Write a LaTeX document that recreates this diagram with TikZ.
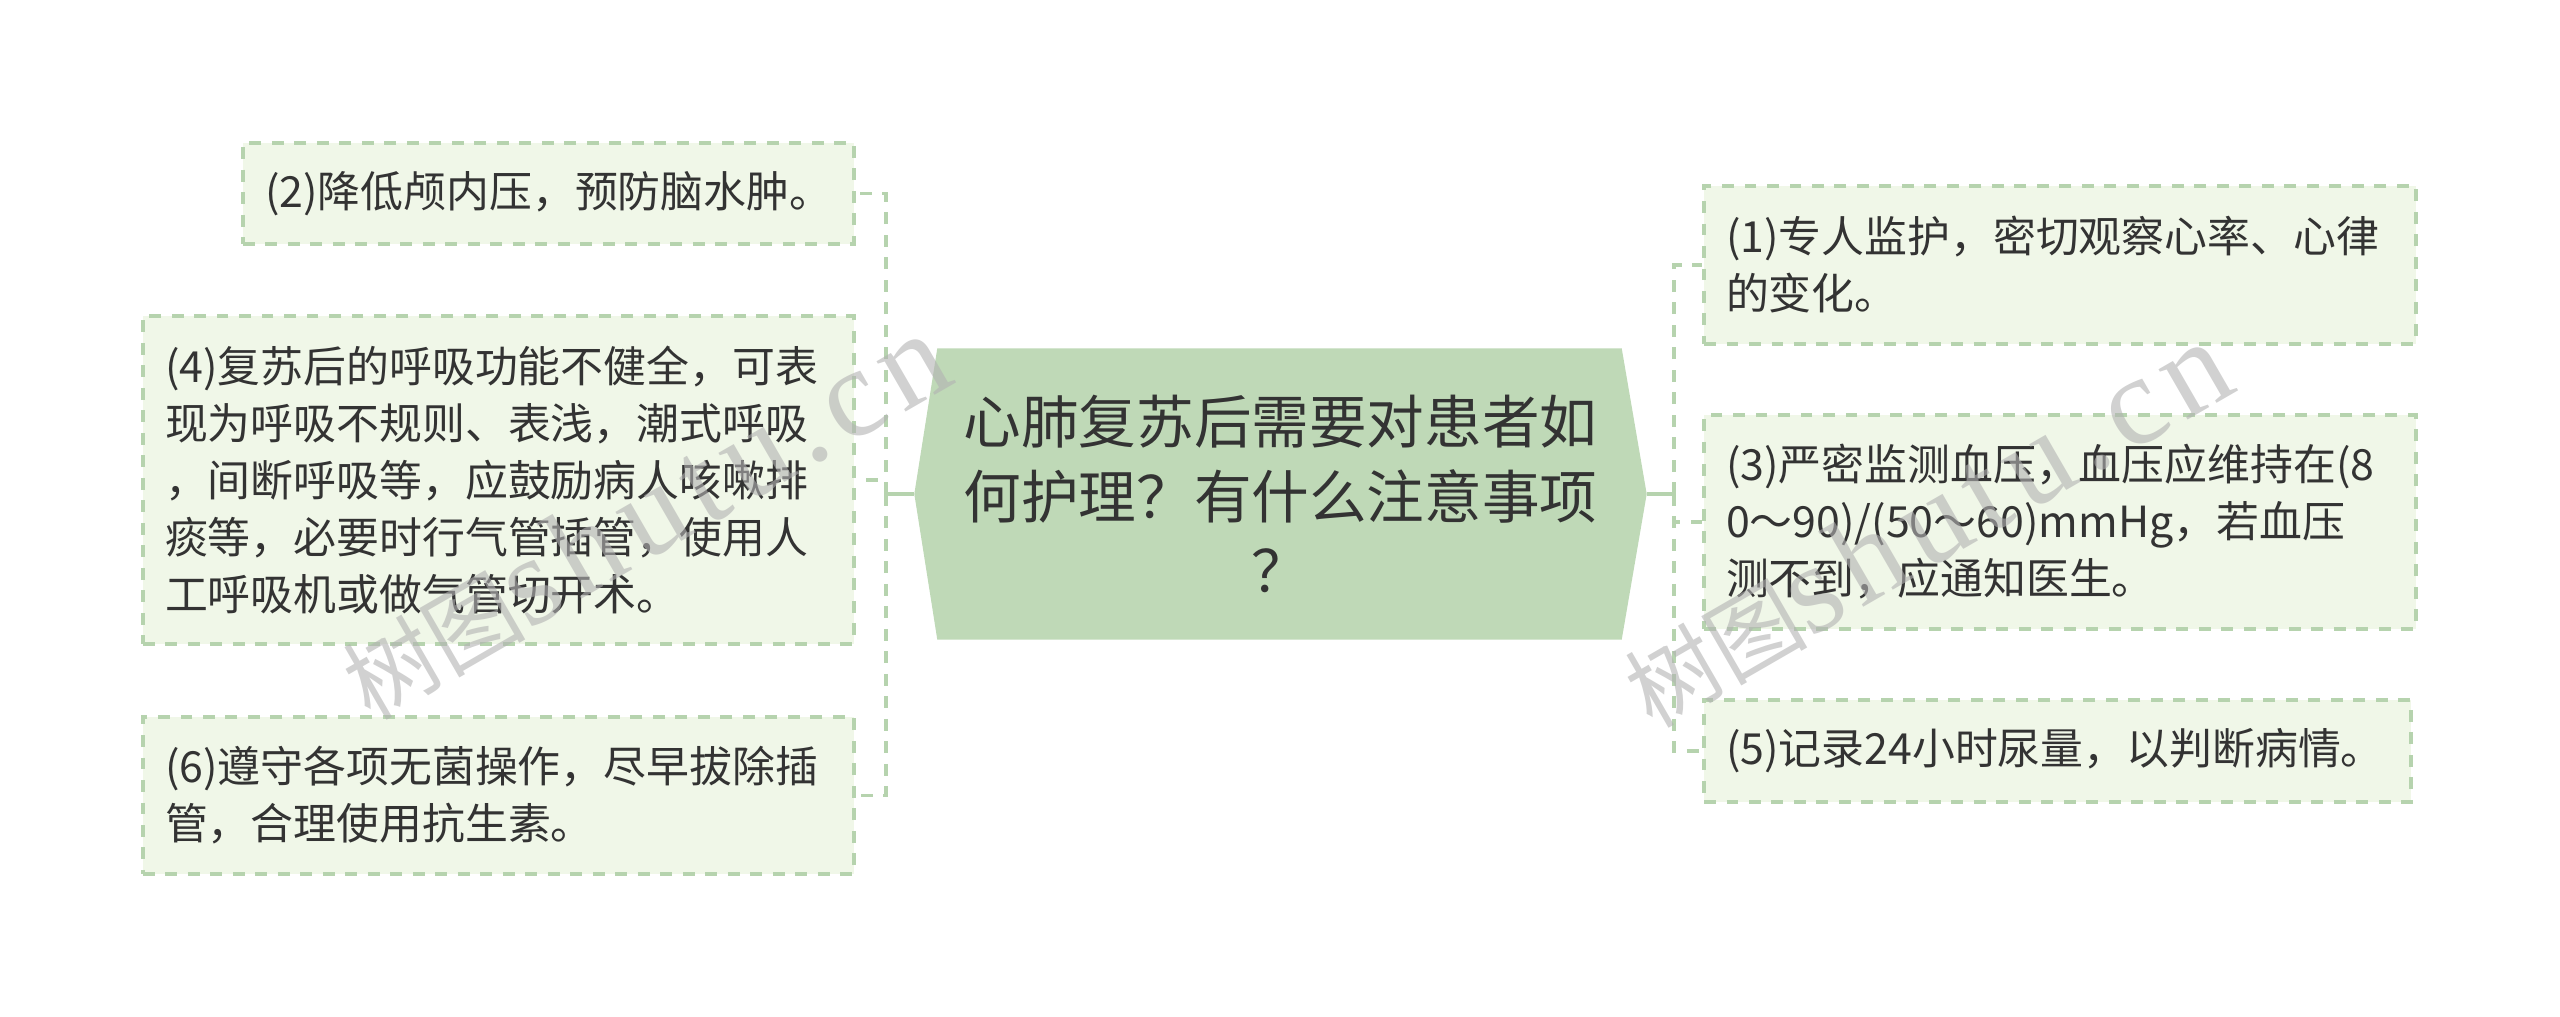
\documentclass[tikz,border=0pt]{standalone}
\usepackage{fontspec}
\setmainfont{Noto Sans CJK SC}
\newfontfamily\wmlatin{Liberation Serif}
\usepackage{tikz}
\usetikzlibrary{backgrounds}

\definecolor{rootgreen}{HTML}{BFD9B7}
\definecolor{leafgreen}{HTML}{F0F7E8}
\definecolor{edgegreen}{HTML}{B6D3AE}
\definecolor{inkgray}{HTML}{333333}

\begin{document}
\begin{tikzpicture}[
    leaf/.style={draw=edgegreen, fill=leafgreen, line width=1.1pt, dash pattern=on 3.4pt off 3pt,
      inner xsep=0.22cm, align=left, text=inkgray, font=\fontsize{12.2pt}{16.2pt}\selectfont},
    root/.style={inner sep=0pt, minimum width=7.31cm, minimum height=2.9cm, align=center,
      text=inkgray, font=\fontsize{16.4pt}{21.3pt}\selectfont},
    edge/.style={draw=edgegreen, line width=1.1pt},
    conn/.style={edge, dash pattern=on 3.4pt off 3pt},
    wmark/.style={rotate=30, text=black!30, text opacity=0.6, font=\fontsize{26pt}{26pt}\selectfont}
  ]
  \useasboundingbox (0, 0) rectangle (25.6, -10.17);

  % centre topic
  \node [root] (root) at (12.805, -4.94) {心肺复苏后需要对患者如\\何护理？有什么注意事项\\？};
  \begin{scope}[on background layer]
    \fill [rootgreen] (root.west) -- ([xshift=0.23cm]root.north west) -- ([xshift=-0.25cm]root.north east)
      -- (root.east) -- ([xshift=-0.25cm]root.south east) -- ([xshift=0.23cm]root.south west) -- cycle;
  \end{scope}

  % left side
  \node [leaf, text width=5.67cm, minimum height=1.01cm] (l2) at (5.485, -1.935) {(2)降低颅内压，预防脑水肿。};
  \node [leaf, text width=6.67cm, minimum height=3.28cm] (l4) at (4.985, -4.80)
    {(4)复苏后的呼吸功能不健全，可表\\现为呼吸不规则、表浅，潮式呼吸\\，间断呼吸等，应鼓励病人咳嗽排\\痰等，必要时行气管插管，使用人\\工呼吸机或做气管切开术。};
  \node [leaf, text width=6.67cm, minimum height=1.57cm] (l6) at (4.985, -7.955)
    {(6)遵守各项无菌操作，尽早拔除插\\管，合理使用抗生素。};

  % right side
  \node [leaf, text width=6.68cm, minimum height=1.58cm] (r1) at (20.60, -2.65)
    {(1)专人监护，密切观察心率、心律\\的变化。};
  \node [leaf, text width=6.68cm, minimum height=2.14cm] (r3) at (20.60, -5.22)
    {(3)严密监测血压，血压应维持在(8\\0～90)/(50～60)mmHg，若血压\\测不到，应通知医生。};
  \node [leaf, text width=6.63cm, minimum height=1.02cm] (r5) at (20.575, -7.51) {(5)记录24小时尿量，以判断病情。};

  % connectors
  \coordinate (lhub) at (8.86, -4.94);
  \coordinate (rhub) at (16.74, -4.94);
  \draw [edge] (root.west) -- (lhub);
  \draw [edge] (root.east) -- (rhub);
  \foreach \leafname in {l2, l4, l6}
    \draw [conn] (lhub) |- (\leafname.east);
  \foreach \leafname in {r1, r3, r5}
    \draw [conn] (rhub) |- (\leafname.west);

  % watermarks
  \node [wmark] (wm1) at (6.44, -5.17) {树图{\wmlatin\fontsize{36pt}{36pt}\selectfont\addfontfeature{LetterSpace=8}shutu.cn}};
  \node [wmark] (wm2) at (19.26, -5.25) {树图{\wmlatin\fontsize{36pt}{36pt}\selectfont\addfontfeature{LetterSpace=8}shutu.cn}};
\end{tikzpicture}
\end{document}
